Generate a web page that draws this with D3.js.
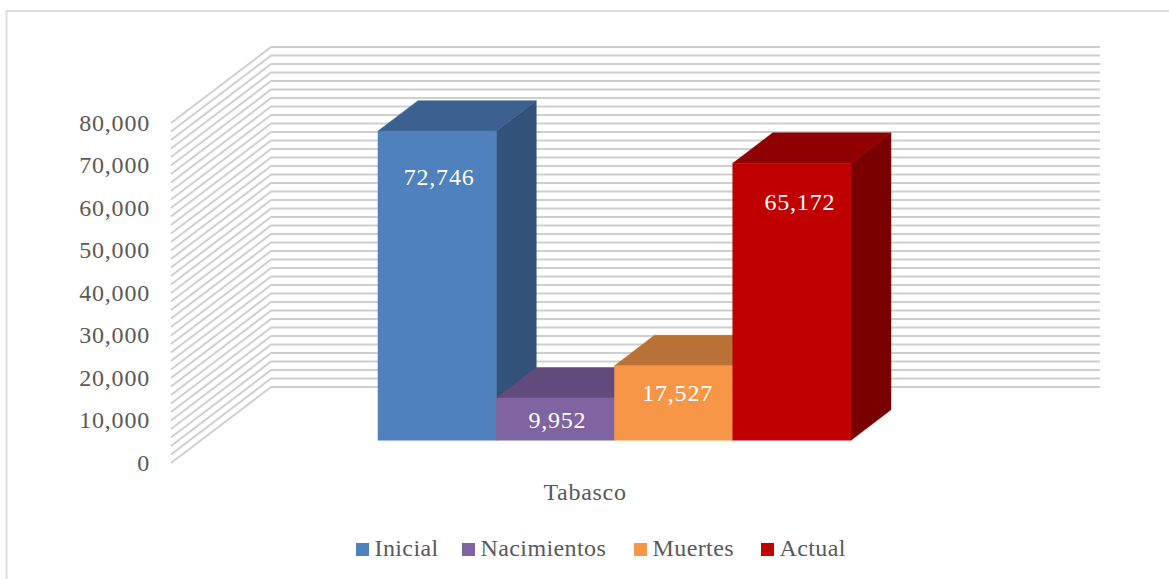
<!DOCTYPE html>
<html>
<head>
<meta charset="utf-8">
<script src="https://cdn.jsdelivr.net/npm/d3@7"></script>
<style>
html, body { margin: 0; padding: 0; background: #fff; }
text { font-family: "Liberation Serif", serif; }
</style>
</head>
<body>
<svg width="1169" height="579"></svg>
<script>
var categoria = "Tabasco";
var series = ["Inicial", "Nacimientos", "Muertes", "Actual"];
var valores = [72746, 9952, 17527, 65172];
var etiquetas = ["72,746", "9,952", "17,527", "65,172"];
var frente = ["#4f81bd", "#8064a2", "#f79646", "#c00000"];
var tapa = ["#3c6190", "#604b7a", "#b97135", "#900000"];
var lado = ["#325279", "#503f66", "#9b5e2c", "#780000"];
var ticksY = [0, 10000, 20000, 30000, 40000, 50000, 60000, 70000, 80000];
var ticksGrid = [];
for (var t = 0; t <= 80000; t += 2000) ticksGrid.push(t);

var svg = d3.select("svg");

// el borde del grafico se sale por la derecha y por abajo
svg.append("rect")
  .attr("x", 6.5).attr("y", 11)
  .attr("width", 1175).attr("height", 580)
  .attr("fill", "#fff")
  .attr("stroke", "#dedede")
  .attr("stroke-width", 2);

// escala vertical en el plano frontal de la caja
var y = d3.scaleLinear().domain([0, 80000]).range([463, 123]);
// profundidad 0 = frente de la caja, 1 = pared del fondo
var profX = d3.scaleLinear().domain([0, 1]).range([0, 100]);
var profY = d3.scaleLinear().domain([0, 1]).range([0, -76]);
var inicioBarra = 0.3, finBarra = 0.7;

var x = d3.scaleBand().domain(series).range([348, 821]);
var ejeX0 = 171, ejeX1 = 1000;

function punto(px, valor, prof) {
  return [px + profX(prof), y(valor) + profY(prof)];
}

// rejilla: pared izquierda y pared del fondo
var grid = svg.append("g").attr("fill", "none").attr("stroke", "#cfcfcf").attr("stroke-width", 2);
grid.selectAll("path")
  .data(ticksGrid)
  .enter().append("path")
  .attr("d", d => d3.line()([punto(ejeX0, d, 0), punto(ejeX0, d, 1), punto(ejeX1, d, 1)]));

// barras en 3D
var barras = svg.append("g").selectAll("g")
  .data(series)
  .enter().append("g");

function poli(sel, puntos, color) {
  sel.append("polygon")
    .attr("points", puntos)
    .attr("fill", color)
    .attr("stroke", color)
    .attr("stroke-width", 0.5);
}

barras.each(function (s, i) {
  var g = d3.select(this);
  var x0 = x(s), x1 = x(s) + x.bandwidth(), v = valores[i];
  poli(g, [punto(x1, 0, inicioBarra), punto(x1, 0, finBarra), punto(x1, v, finBarra), punto(x1, v, inicioBarra)].join(" "), lado[i]);
  poli(g, [punto(x0, v, inicioBarra), punto(x1, v, inicioBarra), punto(x1, v, finBarra), punto(x0, v, finBarra)].join(" "), tapa[i]);
  poli(g, [punto(x0, 0, inicioBarra), punto(x1, 0, inicioBarra), punto(x1, v, inicioBarra), punto(x0, v, inicioBarra)].join(" "), frente[i]);
});

// etiquetas de datos, desplazadas a mano desde la cara frontal de cada barra
var bajadaEtiqueta = [54, 30, 35, 47];
var correrEtiqueta = [2, 2, 4, 8];
svg.append("g").selectAll("text")
  .data(series)
  .enter().append("text")
  .attr("x", (d, i) => x(d) + profX(inicioBarra) + x.bandwidth() / 2 + correrEtiqueta[i])
  .attr("y", (d, i) => punto(0, valores[i], inicioBarra)[1] + bajadaEtiqueta[i])
  .attr("text-anchor", "middle")
  .attr("fill", "#fff")
  .attr("font-size", 24)
  .attr("letter-spacing", 0.8)
  .text((d, i) => etiquetas[i]);

// eje Y
svg.append("g").selectAll("text")
  .data(ticksY)
  .enter().append("text")
  .attr("x", 150)
  .attr("y", d => y(d) + 7.5)
  .attr("text-anchor", "end")
  .attr("fill", "#595959")
  .attr("font-size", 24)
  .attr("letter-spacing", 0.8)
  .text(d => d3.format(",")(d));

// categoria
svg.append("text")
  .attr("x", 585).attr("y", 500)
  .attr("text-anchor", "middle")
  .attr("fill", "#595959")
  .attr("font-size", 24)
  .attr("letter-spacing", 0.7)
  .text(categoria);

// leyenda
var leyendaX = [356, 462, 634, 761];
var leyenda = svg.append("g").selectAll("g")
  .data(series)
  .enter().append("g")
  .attr("transform", (d, i) => "translate(" + leyendaX[i] + ",543)");
leyenda.append("rect")
  .attr("width", 13).attr("height", 13)
  .attr("fill", (d, i) => frente[i]);
leyenda.append("text")
  .attr("x", 18.5).attr("y", 13)
  .attr("fill", "#595959")
  .attr("font-size", 24)
  .attr("letter-spacing", 0.4)
  .text(d => d);
</script>
</body>
</html>
